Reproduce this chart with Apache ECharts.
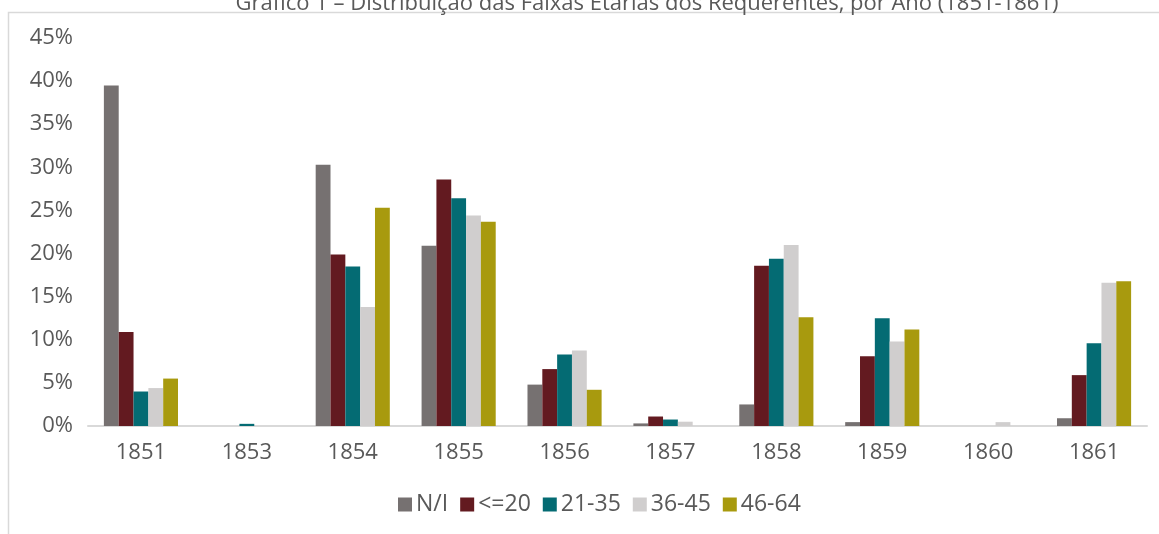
<!DOCTYPE html>
<html>
<head>
<meta charset="utf-8">
<script src="https://cdn.jsdelivr.net/npm/echarts@6/dist/echarts.min.js"></script>
<style>
  html, body { margin: 0; padding: 0; background: #ffffff; }
  #chart { width: 1159px; height: 534px; }
</style>
</head>
<body>
<div id="chart"></div>
<script>
// Anos dos requerimentos
const anos = ['1851', '1853', '1854', '1855', '1856', '1857', '1858', '1859', '1860', '1861'];

// Percentual de requerentes por faixa etária em cada ano
const faixaNI    = [39.5, 0,    30.3, 20.9, 4.8,  0.3,  2.5,  0.45, 0,    0.9];
const faixaAte20 = [10.9, 0,    19.9, 28.6, 6.6,  1.1,  18.6, 8.1,  0,    5.9];
const faixa21_35 = [4.0,  0.25, 18.5, 26.4, 8.3,  0.75, 19.4, 12.5, 0,    9.6];
const faixa36_45 = [4.4,  0,    13.8, 24.4, 8.75, 0.5,  21.0, 9.8,  0.45, 16.6];
const faixa46_64 = [5.5,  0,    25.3, 23.7, 4.2,  0,    12.6, 11.2, 0,    16.8];

const nomesFaixas = ['N/I', '<=20', '21-35', '36-45', '46-64'];
const coresFaixas = ['#767171', '#631a20', '#046b73', '#d0cece', '#a89a0e'];
const valoresFaixas = [faixaNI, faixaAte20, faixa21_35, faixa36_45, faixa46_64];

const fonte = '"Open Sans", "Noto Sans", sans-serif';
const corTexto = '#595959';

const chart = echarts.init(document.getElementById('chart'), null, { renderer: 'canvas' });

chart.setOption({
  animation: false,
  backgroundColor: '#ffffff',
  title: {
    text: 'Gráfico 1 – Distribuição das Faixas Etárias dos Requerentes, por Ano (1851-1861)',
    left: 642,
    textAlign: 'center',
    top: -12,
    textStyle: { fontFamily: fonte, fontSize: 22, fontWeight: 'normal', color: corTexto }
  },
  graphic: [{
    type: 'rect',
    shape: { x: 8.5, y: 12.5, width: 1400, height: 800 },
    style: { fill: 'none', stroke: '#d9d9d9', lineWidth: 1.5 },
    silent: true,
    z: -1
  }],
  legend: {
    data: nomesFaixas,
    left: 393,
    top: 488,
    itemWidth: 14,
    itemHeight: 14,
    itemGap: 12,
    icon: 'rect',
    textStyle: { fontFamily: fonte, fontSize: 23, color: corTexto, padding: [0, 0, 0, -1] }
  },
  grid: { left: 88, right: 12, top: 38, bottom: 108, containLabel: false },
  xAxis: {
    type: 'category',
    data: anos,
    axisLine: { lineStyle: { color: '#d9d9d9', width: 2 } },
    axisTick: { show: false },
    axisLabel: { fontFamily: fonte, fontSize: 22, color: corTexto, margin: 16 }
  },
  yAxis: {
    type: 'value',
    min: 0,
    max: 45,
    interval: 5,
    splitLine: { show: false },
    axisLine: { show: false },
    axisTick: { show: false },
    axisLabel: { fontFamily: fonte, fontSize: 22, color: corTexto, margin: 15, formatter: '{value}%' }
  },
  series: nomesFaixas.map((nome, i) => ({
    name: nome,
    type: 'bar',
    data: valoresFaixas[i],
    barGap: '0%',
    barCategoryGap: '30%',
    itemStyle: { color: coresFaixas[i] }
  }))
});
</script>
</body>
</html>
